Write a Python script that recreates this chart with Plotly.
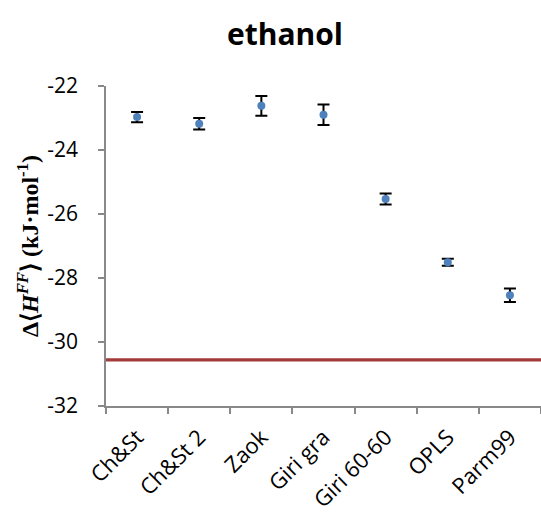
import plotly.graph_objects as go

categories = ["Ch&St", "Ch&St 2", "Zaok", "Giri gra", "Giri 60-60", "OPLS", "Parm99"]
values = [-22.97, -23.18, -22.62, -22.90, -25.53, -27.51, -28.54]
errors = [0.16, 0.18, 0.31, 0.32, 0.17, 0.11, 0.21]
reference_value = -30.56
y_ticks = [-32, -30, -28, -26, -24, -22]
y_tick_labels = ["-32", "-30", "-28", "-26", "-24", "-22"]

fig = go.Figure()
fig.add_trace(go.Scatter(
    x=categories, y=values, mode="markers",
    marker=dict(color="#4F81BD", size=8),
    error_y=dict(type="data", array=errors, visible=True,
                 color="black", thickness=2, width=6),
    showlegend=False,
))
fig.add_hline(y=reference_value, line=dict(color="#A33B3A", width=3.3), layer="below")

fig.update_layout(
    width=541, height=517,
    margin=dict(l=106, r=0, t=86, b=111),
    plot_bgcolor="white", paper_bgcolor="white",
    title=dict(text="<b>ethanol</b>", x=285/541, xref="container", xanchor="center",
               y=1 - 34/517, yref="container", yanchor="middle",
               font=dict(family="Open Sans", size=30, color="black")),
    xaxis=dict(type="category", tickson="boundaries", ticks="outside", ticklen=6,
               tickcolor="#898989", tickwidth=1.5,
               showline=True, linecolor="#898989", linewidth=1.5,
               showgrid=False, tickangle=-45,
               ticklabelstandoff=8,
               tickfont=dict(family="Open Sans", size=22, color="black"),
               range=[-0.5, 6.5]),
    yaxis=dict(range=[-32, -22], tickvals=y_ticks, ticktext=y_tick_labels,
               ticks="outside", ticklen=6,
               tickcolor="#898989", tickwidth=1.5,
               showline=True, linecolor="#898989", linewidth=1.5,
               showgrid=False, zeroline=False,
               ticklabelstandoff=16,
               tickfont=dict(family="Open Sans", size=21, color="black"),
               title=dict(text="Δ⟨<i>H<sup>FF</sup></i>⟩ (kJ·mol<sup>-1</sup>)",
                          font=dict(family="Liberation Serif", size=24, color="black", weight="bold"),
                          standoff=2)),
)

fig.write_html("out.html")
